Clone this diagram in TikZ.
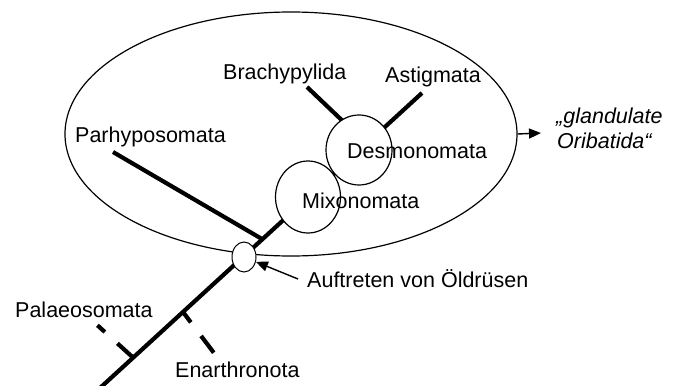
\documentclass[tikz,border=0pt]{standalone}
\usepackage{fontspec}
\setmainfont{Liberation Sans}
\usetikzlibrary{arrows.meta,shapes.geometric}
\begin{document}
\begin{tikzpicture}[x=1pt,y=-1pt,
  lbl/.style={font=\fontsize{21.5}{25}\selectfont, inner sep=0pt, anchor=base west},
  ilbl/.style={lbl, font=\fontsize{21.5}{25}\selectfont\itshape},
  branch/.style={line width=4.2pt},
  ring/.style={draw, ellipse, line width=1.2pt, fill=white, inner sep=0pt},
  tip/.style={-{Triangle[length=12pt,width=10pt]}, line width=1.4pt}]
\clip (0,0) rectangle (676,385);
% large group ellipse
\node[draw, ellipse, line width=1.2pt, minimum width=452pt, minimum height=244pt, inner sep=0pt] (group) at (291,134) {};
% trunk
\coordinate (base) at (100,388);
\coordinate (top) at (422,93);
\draw[branch] (base) -- (top);
% side branches
\coordinate (jP) at (262,239);
\coordinate (eP) at (113,152);
\draw[branch] (jP) -- (eP);
\coordinate (jPa) at (133,357.5);
\coordinate (ePa) at (96,324);
\draw[branch, dash pattern=on 21pt off 17pt on 10pt off 30pt] (jPa) -- (ePa);
\coordinate (jE) at (183,312);
\coordinate (eE) at (214,353);
\draw[branch, dash pattern=on 13pt off 17pt on 21pt off 30pt] (jE) -- (eE);
\coordinate (jB) at (350,128);
\coordinate (eB) at (307,87);
\draw[branch] (jB) -- (eB);
% circles
\node[ring, minimum width=65pt, minimum height=72pt] (mixo) at (308,197) {};
\node[ring, minimum width=66pt, minimum height=70pt] (desmo) at (359,150) {};
\node[ring, line width=1pt, minimum width=24pt, minimum height=30pt] (oel) at (244,257) {};
% labels
\node[lbl] (tMixo) at (302,208) {Mixonomata};
\node[lbl] (tDesmo) at (347,158) {Desmonomata};
\node[lbl] (tBrachy) at (223,79.5) {Brachypylida};
\node[lbl] (tAstig) at (385,83) {Astigmata};
\node[lbl] (tParhy) at (75,142) {Parhyposomata};
\node[lbl] (tPalaeo) at (15,317) {Palaeosomata};
\node[lbl] (tEnar) at (175,377) {Enarthronota};
\node[lbl] (tOel) at (307,287) {Auftreten von Öldrüsen};
\node[ilbl] (tGland1) at (556,123) {„glandulate};
\node[ilbl] (tGland2) at (557,148) {Oribatida“};
% arrows
\coordinate (gTip) at (541,133);
\draw[tip] (group.east) -- (gTip);
\coordinate (oTail) at (298,279);
\draw[tip] (oTail) -- (oel);
\end{tikzpicture}
\end{document}
